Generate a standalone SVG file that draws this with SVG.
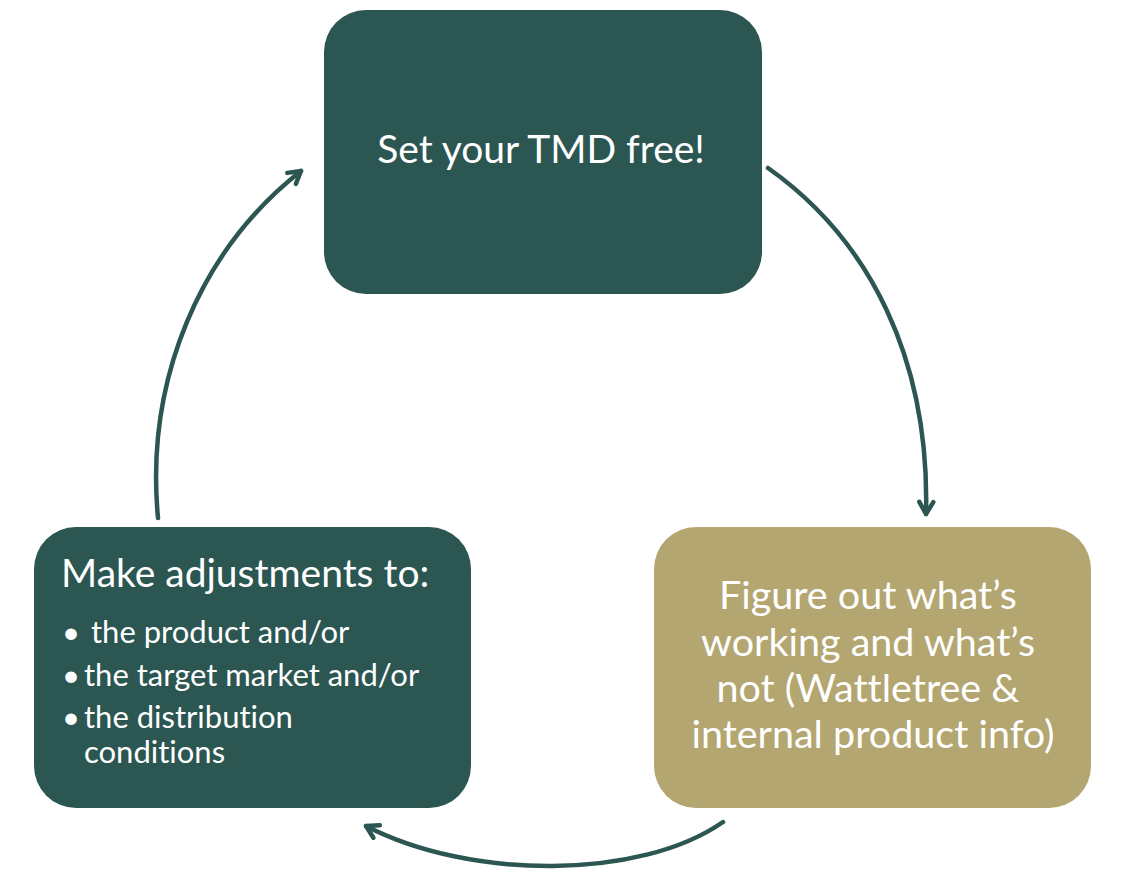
<svg xmlns="http://www.w3.org/2000/svg" width="1128" height="888" viewBox="0 0 1128 888">
<style>
.dark{fill:#2b5651}
.gold{fill:#b3a670}
.t{fill:#ffffff;font-family:Lato,"Open Sans","Liberation Sans",sans-serif;font-variant-ligatures:none}
.conn{fill:none;stroke:#2b5651;stroke-width:4.5;stroke-linecap:round}
</style>
<defs>
<marker id="ah" viewBox="0 0 20 20" refX="16" refY="10" markerWidth="20" markerHeight="20" markerUnits="userSpaceOnUse" orient="auto">
<polyline points="4,3 16,10 4,17" fill="none" stroke="#2b5651" stroke-width="4.5" stroke-linecap="round" stroke-linejoin="round"/>
</marker>
</defs>
<rect width="1128" height="888" fill="#ffffff"/>
<g id="connectors">
<path class="conn" d="M768,168 C870,240 930,360 926,514" marker-end="url(#ah)"/>
<path class="conn" d="M723,822 C640,880 470,880 366,826" marker-end="url(#ah)"/>
<path class="conn" d="M158,518 C145,380 200,250 301,171" marker-end="url(#ah)"/>
</g>
<g id="node-set">
<rect class="dark" x="324" y="10" width="438" height="284" rx="42"/>
<text class="t" x="541" y="163" font-size="39" text-anchor="middle">Set your TMD free!</text>
</g>
<g id="node-figure">
<rect class="gold" x="654" y="527" width="437" height="281" rx="42"/>
<text class="t" font-size="39.5" text-anchor="middle">
<tspan x="873" y="609">Figure out what’s</tspan>
<tspan x="873" y="656">working and what’s</tspan>
<tspan x="873" y="702">not (Wattletree &amp;</tspan>
<tspan x="873" y="748">internal product info)</tspan>
</text>
</g>
<g id="node-adjust">
<rect class="dark" x="34" y="527" width="437" height="281" rx="42"/>
<text class="t" x="61" y="587" font-size="39">Make adjustments to:</text>
<text class="t" font-size="31">
<tspan x="62" y="643">•</tspan><tspan x="91" y="643">the product and/or</tspan>
<tspan x="62" y="686">•</tspan><tspan x="84" y="686">the target market and/or</tspan>
<tspan x="62" y="728">•</tspan><tspan x="84" y="728">the distribution</tspan>
<tspan x="84" y="763">conditions</tspan>
</text>
</g>
</svg>
